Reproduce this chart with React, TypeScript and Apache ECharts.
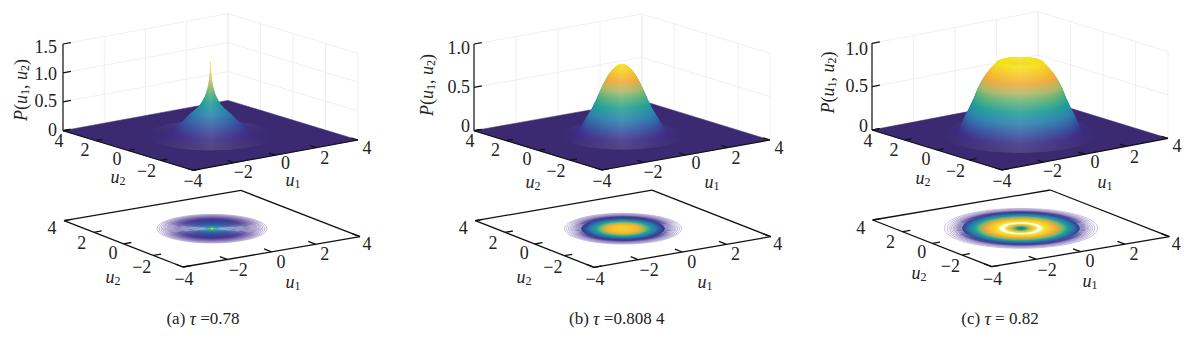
import React, { useEffect, useRef } from "react";
import * as echarts from "echarts";

// ---- values ----
const tickValues = [-4, -2, 0, 2, 4];
const tickLabels = ["\u22124", "\u22122", "0", "2", "4"];
const zTicksA = [0, 0.5, 1, 1.5];
const zTicksBC = [0, 0.5, 1];
const zLabelsA = ["0", "0.5", "1.0", "1.5"];
const zLabelsBC = ["0", "0.5", "1.0"];

const radiusA = [0, 0.02, 0.04, 0.06, 0.1, 0.15, 0.2, 0.3, 0.4, 0.5, 0.65, 0.8, 0.95, 1.1, 1.25, 1.4, 1.6, 1.8, 2.0, 2.4];
const probA = [1.29, 1.18, 1.06, 0.97, 0.87, 0.77, 0.7, 0.6, 0.53, 0.47, 0.41, 0.35, 0.28, 0.21, 0.15, 0.09, 0.05, 0.025, 0.01, 0];
const radiusB = [0, 0.1, 0.2, 0.3, 0.4, 0.5, 0.6, 0.7, 0.85, 1.0, 1.15, 1.3, 1.45, 1.6, 1.75, 1.9, 2.1, 2.3];
const probB = [0.82, 0.815, 0.8, 0.775, 0.745, 0.705, 0.655, 0.6, 0.5, 0.395, 0.3, 0.225, 0.15, 0.075, 0.045, 0.02, 0.008, 0];
const radiusC = [0, 0.3, 0.45, 0.7, 0.9, 1.02, 1.2, 1.35, 1.5, 1.65, 1.78, 1.95, 2.09, 2.2, 2.3, 2.5, 2.7, 2.9];
const probC = [0.81, 0.815, 0.83, 0.835, 0.825, 0.78, 0.72, 0.66, 0.586, 0.49, 0.39, 0.28, 0.2, 0.12, 0.06, 0.025, 0.01, 0];

const contourRadiiA = [2.06, 1.98, 1.91, 1.85, 1.8, 1.75, 1.7, 1.66, 1.62, 1.58, 1.54, 1.5, 1.46, 1.42, 1.38, 1.34, 1.3, 1.26, 1.22, 1.18, 1.14, 1.1, 1.06, 1.02, 0.98, 0.94, 0.9, 0.86, 0.82, 0.78, 0.74, 0.7, 0.66, 0.62, 0.58, 0.54, 0.5, 0.46, 0.42, 0.38, 0.34, 0.3, 0.27, 0.24, 0.21, 0.18, 0.15, 0.12, 0.09, 0.07, 0.05, 0.03, 0.02];
const contourRadiiB = [2.2, 2.12, 2.05, 1.99, 1.94, 1.89, 1.85, 1.81, 1.77, 1.73, 1.69, 1.65, 1.61, 1.57, 1.53, 1.49, 1.45, 1.41, 1.37, 1.33, 1.29, 1.25, 1.21, 1.17, 1.13, 1.09, 1.05, 1.01, 0.97, 0.93, 0.89, 0.85, 0.81, 0.77, 0.73, 0.69, 0.65, 0.6, 0.55, 0.5, 0.45, 0.4, 0.35, 0.3, 0.25, 0.2, 0.15, 0.1, 0.05];
const contourRadiiC = [2.87, 2.76, 2.67, 2.6, 2.54, 2.49, 2.44, 2.4, 2.36, 2.32, 2.28, 2.24, 2.2, 2.16, 2.12, 2.08, 2.04, 2.0, 1.96, 1.92, 1.88, 1.84, 1.8, 1.76, 1.72, 1.68, 1.64, 1.6, 1.56, 1.52, 1.48, 1.44, 1.4, 1.36, 1.32, 1.28, 1.24, 1.2, 1.16, 1.12, 1.08, 1.04, 1.0, 0.96, 0.92, 0.88, 0.84, 0.8, 0.76, 0.72, 0.68, 0.64, 0.6, 0.56, 0.52, 0.48, 0.44, 0.4, 0.36, 0.32, 0.28, 0.24, 0.2, 0.16, 0.12, 0.08, 0.04];

const contourStopsRA = [2.06, 1.7, 1.3, 0.9, 0.5, 0.3, 0.15, 0.07, 0.02];
const contourStopsCA = ["#a99cc9", "#7d6bb0", "#3d2f8c", "#2f3f98", "#2b5da6", "#2a80ac", "#1fa091", "#6cc060", "#f0d020"];
const contourStopsRB = [2.2, 1.85, 1.65, 1.45, 1.25, 1.05, 0.85, 0.65, 0.35, 0];
const contourStopsCB = ["#b0a4d0", "#8a7ab8", "#3a2c86", "#334a9c", "#2c78aa", "#1f9e98", "#7eb870", "#eeb03a", "#f6c828", "#f5d020"];
const contourStopsRC = [2.87, 2.5, 2.3, 2.15, 1.95, 1.75, 1.55, 1.35, 1.1, 0.85, 0.78, 0.66, 0.58, 0.42, 0.3, 0.15, 0];
const contourStopsCC = ["#b0a4d0", "#8a7ab8", "#3a2c86", "#334a9c", "#2c78aa", "#1f9e98", "#7eb870", "#eea83a", "#f6cc28", "#f6e83a", "#ffffff", "#ffffff", "#f2e030", "#e8c040", "#8ab868", "#1f8f8f", "#1c7f88"];

const heightStops = [0, 0.06, 0.18, 0.32, 0.45, 0.58, 0.68, 0.8, 0.9, 1];
const heightColors = ["#3b2a72", "#3d2c85", "#35509f", "#2a80ac", "#1f9e98", "#5cb078", "#a8b868", "#eeaa3a", "#f5c428", "#f3e21a"];

const captions = ["(a) {i|\u03c4} =0.78", "(b) {i|\u03c4} =0.808 4", "(c) {i|\u03c4} = 0.82"];
const zAxisTitle = "{i|P}({i|u}{s|1}, {i|u}{s|2})";

// ---- layout ----
type Pt = [number, number];
const FONT = "Liberation Serif";
const panels = [
  {
    top: { L: [63, 130.7] as Pt, F: [193, 170.3] as Pt, R: [358, 140] as Pt },
    bot: { L: [64, 220.7] as Pt, F: [183, 267] as Pt, R: [360, 236.7] as Pt },
    k: 57.8, zMax: 1.5, zTicks: zTicksA, zLabels: zLabelsA, zDy: [-0.7, -1, 1, 2.5], zRight: 57,
    radius: radiusA, prob: probA, rings: contourRadiiA, stopsR: contourStopsRA, stopsC: contourStopsCA, fillR: 0.1,
    u2Top: [118, 177] as Pt, u1Top: [293, 180] as Pt, u2Bot: [113, 277] as Pt, u1Bot: [293, 282] as Pt,
    title: [20.7, 90] as Pt, cap: [203, 318.5] as Pt,
  },
  {
    top: { L: [474, 130.7] as Pt, F: [602, 170] as Pt, R: [770, 140] as Pt },
    bot: { L: [475.3, 220.7] as Pt, F: [594, 267.3] as Pt, R: [770.7, 236.7] as Pt },
    k: 86.7, zMax: 1, zTicks: zTicksBC, zLabels: zLabelsBC, zDy: [-4.5, -0.6, 4], zRight: 470,
    radius: radiusB, prob: probB, rings: contourRadiiB, stopsR: contourStopsRB, stopsC: contourStopsCB, fillR: 1.6,
    u2Top: [533, 182] as Pt, u1Top: [712, 182] as Pt, u2Bot: [524, 277] as Pt, u1Bot: [705, 282] as Pt,
    title: [426.7, 85] as Pt, cap: [616.7, 318.5] as Pt,
  },
  {
    top: { L: [872, 130] as Pt, F: [1002, 170] as Pt, R: [1168, 138.3] as Pt },
    bot: { L: [872.7, 220] as Pt, F: [991.7, 266.7] as Pt, R: [1169.3, 236.7] as Pt },
    k: 86.7, zMax: 1, zTicks: zTicksBC, zLabels: zLabelsBC, zDy: [-4, -0.5, 5.5], zRight: 868,
    radius: radiusC, prob: probC, rings: contourRadiiC, stopsR: contourStopsRC, stopsC: contourStopsCC, fillR: 2.2,
    u2Top: [923, 178] as Pt, u1Top: [1105, 182] as Pt, u2Bot: [919, 273] as Pt, u1Bot: [1090, 281] as Pt,
    title: [828, 82.5] as Pt, cap: [1000, 318.5] as Pt,
  },
];
const u2OffTop: Pt[] = [[0, 11], [-14, 11], [-11, 8.5], [-10.5, 9.5], [-4, 10.5]];
const u1OffTop: Pt[] = [[0, 11], [9, 9], [10, 8], [8, 10.5], [9, 8]];
const u2OffBot: Pt[] = [[1, 12], [-11.5, 11.3], [-10.5, 9], [-12, 10.4], [-12, 7.5]];
const u1OffBot: Pt[] = [[1, 12], [11, 10.5], [9.5, 9.7], [9, 10], [7, 7.5]];

// ---- helpers ----
const hexRgb = (h: string) => [1, 3, 5].map((i) => parseInt(h.slice(i, i + 2), 16));
const mixHex = (a: string, b: string, t: number) => {
  const A = hexRgb(a), B = hexRgb(b);
  return "rgb(" + A.map((v, i) => Math.round(v + (B[i] - v) * t)).join(",") + ")";
};
function sampleColor(xs: number[], cs: string[], x: number) {
  // xs may ascend or descend
  const asc = xs[0] < xs[xs.length - 1];
  for (let i = 0; i < xs.length - 1; i++) {
    const a = xs[i], b = xs[i + 1];
    if (asc ? x <= b : x >= b) {
      const t = Math.max(0, Math.min(1, (x - a) / (b - a)));
      return mixHex(cs[i], cs[i + 1], t);
    }
  }
  return mixHex(cs[cs.length - 1], cs[cs.length - 1], 0);
}
const lighten = (rgb: string, t: number) => {
  const v = rgb.match(/\d+/g)!.map(Number);
  return "rgb(" + v.map((c) => Math.round(c + (255 - c) * t)).join(",") + ")";
};

function makeProjector(c: { L: Pt; F: Pt; R: Pt }, k = 0) {
  const ax = c.R[0] - c.F[0], ay = c.R[1] - c.F[1];
  const bx = c.L[0] - c.F[0], by = c.L[1] - c.F[1];
  const proj = (u1: number, u2: number, z = 0): Pt => {
    const s = echarts.number.linearMap(u1, [-4, 4], [0, 1]);
    const t = echarts.number.linearMap(u2, [-4, 4], [0, 1]);
    return [c.F[0] + s * ax + t * bx, c.F[1] + s * ay + t * by - z * k];
  };
  return {
    proj,
    sx: Math.sqrt(ax * ax + bx * bx) / 8,
    sy: Math.sqrt(ay * ay + by * by) / 8,
    ua: [ax / Math.hypot(ax, ay), ay / Math.hypot(ax, ay)] as Pt,
    ub: [bx / Math.hypot(bx, by), by / Math.hypot(bx, by)] as Pt,
  };
}

function segmentSeries(segs: number[][], color: string, width: number) {
  return {
    type: "custom",
    coordinateSystem: "none",
    silent: true,
    data: segs,
    renderItem: (_: any, api: any) => ({
      type: "line",
      shape: { x1: api.value(0), y1: api.value(1), x2: api.value(2), y2: api.value(3) },
      style: { stroke: color, lineWidth: width, fill: "none" },
    }),
  };
}

function buildOption() {
  const series: any[] = [];
  const graphic: any[] = [];
  const rich = {
    i: { fontFamily: FONT, fontStyle: "italic", fontSize: 18, lineHeight: 20, verticalAlign: "middle", fill: "#222" },
    s: { fontFamily: FONT, fontSize: 12, lineHeight: 20, verticalAlign: "bottom", fill: "#222", padding: [4, 0, 0, 0] },
  };
  const addText = (text: string, x: number, y: number, size = 18, rotation = 0) =>
    graphic.push({
      type: "text", x, y, rotation, silent: true,
      style: { text, rich, x: 0, y: 0, align: "center", verticalAlign: "middle", fontFamily: FONT, fontSize: size, fill: "#222" },
    });

  panels.forEach((p) => {
    const top = makeProjector(p.top, p.k);
    const bot = makeProjector(p.bot);

    // walls
    const wall: number[][] = [];
    const seg = (a: Pt, b: Pt) => [a[0], a[1], b[0], b[1]];
    tickValues.forEach((u) => {
      wall.push(seg(top.proj(u, 4, 0), top.proj(u, 4, p.zMax)));
      wall.push(seg(top.proj(4, u, 0), top.proj(4, u, p.zMax)));
    });
    p.zTicks.forEach((z) => {
      wall.push(seg(top.proj(-4, 4, z), top.proj(4, 4, z)));
      wall.push(seg(top.proj(4, 4, z), top.proj(4, -4, z)));
    });
    series.push(segmentSeries(wall, "#ececec", 0.8));

    // floor
    series.push({
      type: "custom", coordinateSystem: "none", silent: true,
      data: [[0]],
      renderItem: () => ({
        type: "polygon",
        shape: { points: [top.proj(-4, 4), top.proj(-4, -4), top.proj(4, -4), top.proj(4, 4)] },
        style: { fill: heightColors[0], stroke: heightColors[0], lineWidth: 0.5 },
      }),
    });

    // surface slices, outermost first
    const slices: number[][] = [];
    const peak = Math.max(...p.prob);
    for (let i = p.radius.length - 1; i > 0; i--) {
      const r0 = p.radius[i], r1 = p.radius[i - 1], z0 = p.prob[i], z1 = p.prob[i - 1];
      const n = Math.max(1, Math.ceil(Math.max(Math.abs(r1 - r0) * top.sx, Math.abs(z1 - z0) * p.k) / 0.6));
      for (let j = 0; j < n; j++) {
        const t = j / n;
        slices.push([r0 + (r1 - r0) * t, z0 + (z1 - z0) * t]);
      }
    }
    const [cx, cy] = top.proj(0, 0);
    series.push({
      type: "custom", coordinateSystem: "none", silent: true,
      data: slices,
      renderItem: (_: any, api: any) => {
        const r = api.value(0), z = api.value(1);
        const base = sampleColor(heightStops, heightColors, z / peak);
        const hi = lighten(base, 0.13);
        return {
          type: "ellipse",
          shape: { cx, cy: cy - z * p.k, rx: Math.max(r * top.sx, 0.6), ry: Math.max(r * top.sy, 0.3) },
          style: {
            fill: new echarts.graphic.LinearGradient(0, 0, 1, 0, [
              { offset: 0, color: base }, { offset: 0.5, color: hi }, { offset: 1, color: base },
            ]),
          },
        };
      },
    });

    // top-panel axes
    const L = top.proj(-4, 4), F = top.proj(-4, -4), R = top.proj(4, -4);
    const topSegs: number[][] = [seg(L, F), seg(F, R), seg(L, top.proj(-4, 4, p.zMax))];
    tickValues.forEach((u) => {
      const a = top.proj(-4, u), b = top.proj(u, -4);
      topSegs.push(seg(a, [a[0] + top.ua[0] * 7, a[1] + top.ua[1] * 7]));
      topSegs.push(seg(b, [b[0] + top.ub[0] * 7, b[1] + top.ub[1] * 7]));
    });
    p.zTicks.forEach((z) => {
      const a = top.proj(-4, 4, z);
      topSegs.push(seg(a, [a[0] + top.ua[0] * 8, a[1] + top.ua[1] * 8]));
    });
    series.push(segmentSeries(topSegs, "#111", 1.2));

    // contour rings, outermost first
    const [bx, by] = bot.proj(0, 0);
    series.push({
      type: "custom", coordinateSystem: "none", silent: true,
      data: p.rings.map((r) => [r]),
      renderItem: (_: any, api: any) => {
        const r = api.value(0);
        const col = sampleColor(p.stopsR, p.stopsC, r);
        return {
          type: "ellipse",
          shape: { cx: bx, cy: by, rx: r * bot.sx, ry: r * bot.sy },
          style: { fill: r <= p.fillR ? col : "none", stroke: col, lineWidth: 0.7 },
        };
      },
    });

    // bottom-panel box and ticks
    const bL = bot.proj(-4, 4), bF = bot.proj(-4, -4), bR = bot.proj(4, -4), bB = bot.proj(4, 4);
    const botSegs: number[][] = [seg(bL, bF), seg(bF, bR), seg(bR, bB), seg(bB, bL)];
    tickValues.forEach((u) => {
      const a = bot.proj(-4, u), b = bot.proj(u, -4);
      botSegs.push(seg(a, [a[0] + bot.ua[0] * 8, a[1] + bot.ua[1] * 8]));
      botSegs.push(seg(b, [b[0] + bot.ub[0] * 8, b[1] + bot.ub[1] * 8]));
    });
    series.push(segmentSeries(botSegs, "#111", 1.3));

    // labels
    p.zLabels.forEach((lab, i) => {
      const y = top.proj(-4, 4, p.zTicks[i])[1] + p.zDy[i];
      graphic.push({
        type: "text", x: p.zRight, y, silent: true,
        style: { text: lab, align: "right", verticalAlign: "middle", fontFamily: FONT, fontSize: 18, fill: "#222" },
      });
    });
    tickValues.forEach((u, i) => {
      const a = top.proj(-4, u), b = top.proj(u, -4), c = bot.proj(-4, u), d = bot.proj(u, -4);
      addText(tickLabels[i], a[0] + u2OffTop[i][0], a[1] + u2OffTop[i][1]);
      if (i > 0) addText(tickLabels[i], b[0] + u1OffTop[i][0], b[1] + u1OffTop[i][1]);
      addText(tickLabels[i], c[0] + u2OffBot[i][0], c[1] + u2OffBot[i][1]);
      if (i > 0) addText(tickLabels[i], d[0] + u1OffBot[i][0], d[1] + u1OffBot[i][1]);
    });
    addText("{i|u}{s|2}", p.u2Top[0], p.u2Top[1]);
    addText("{i|u}{s|1}", p.u1Top[0], p.u1Top[1]);
    addText("{i|u}{s|2}", p.u2Bot[0], p.u2Bot[1]);
    addText("{i|u}{s|1}", p.u1Bot[0], p.u1Bot[1]);
    addText(zAxisTitle, p.title[0], p.title[1], 18, Math.PI / 2);
    addText(captions[panels.indexOf(p)], p.cap[0], p.cap[1], 17);
  });

  return { animation: false, backgroundColor: "#fff", series, graphic: { elements: graphic } };
}

export default function App() {
  const ref = useRef<HTMLDivElement>(null);
  useEffect(() => {
    document.body.style.margin = "0";
    const chart = echarts.init(ref.current!, null, { renderer: "svg" });
    chart.setOption(buildOption() as any);
    return () => chart.dispose();
  }, []);
  return <div ref={ref} style={{ position: "fixed", left: 0, top: 0, width: 1200, height: 337 }} />;
}
